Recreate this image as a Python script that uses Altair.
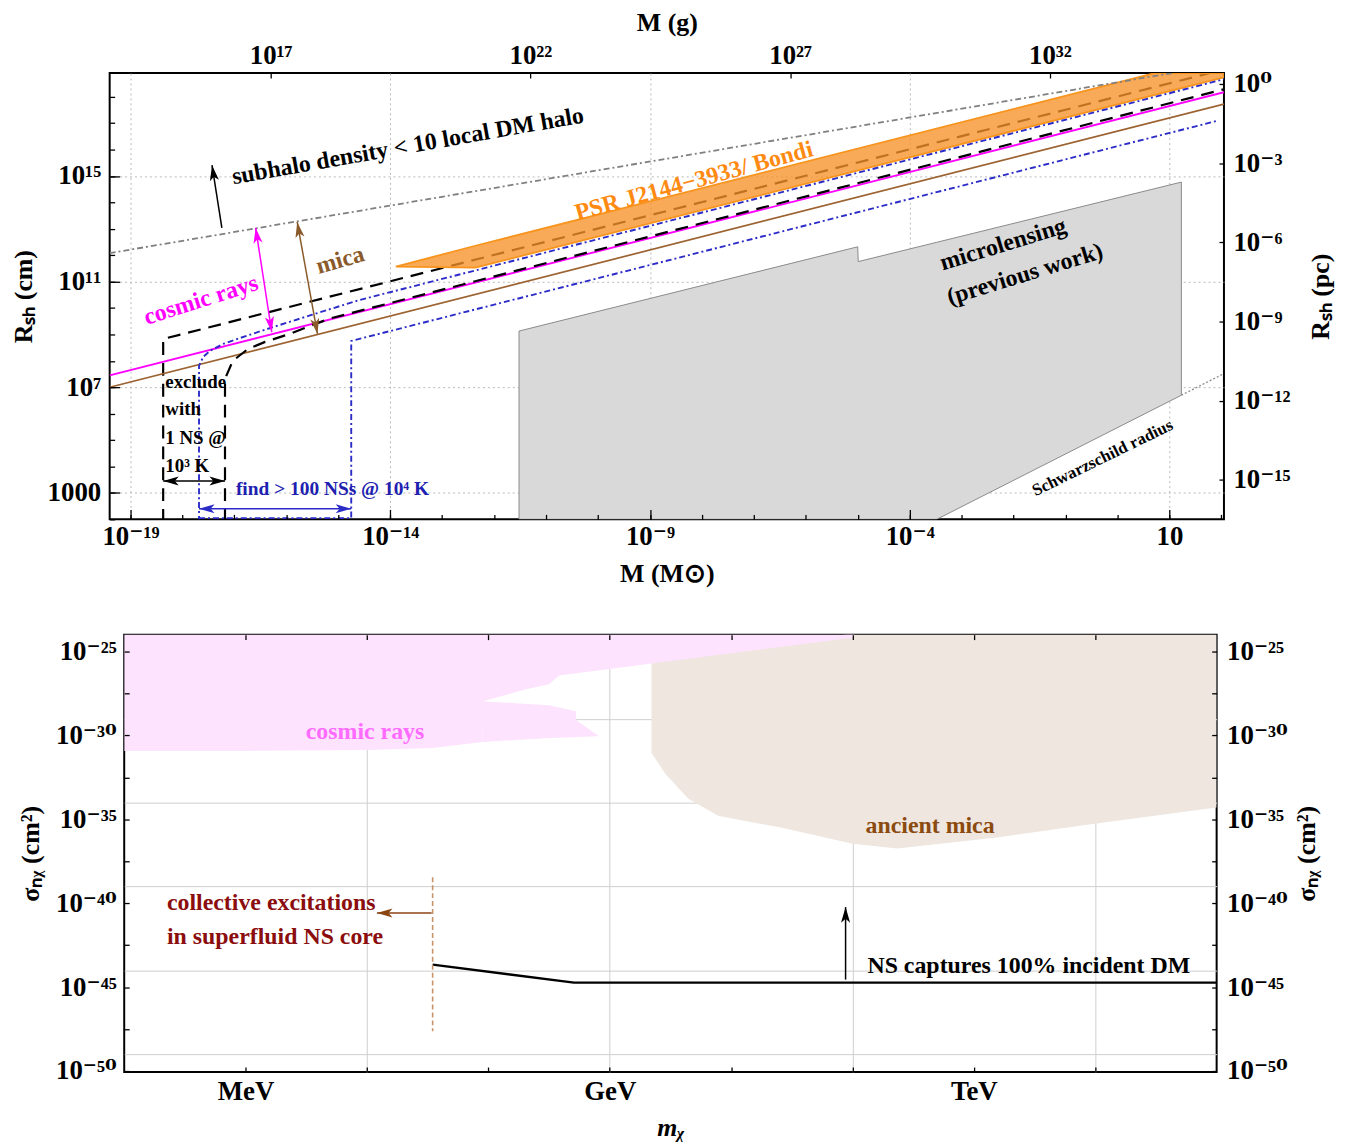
import math
import altair as alt
import pandas as pd

FONT = "Liberation Serif"
LFONT = "Liberation Serif, DejaVu Serif"
SUP = str.maketrans("0123456789-", "⁰¹²³⁴⁵⁶⁷⁸⁹⁻")


def p10(n):
    return "10" + str(n).translate(SUP)


# ================= TOP PANEL  (x = log10 M/Msun, y = log10 R_sh/cm) =================
TOP_W, TOP_H = 1121, 449
TOP_XD = [-19.4, 2.05]
TOP_YD = [2.0, 18.9]

subhalo_x = [-19.4, 1.05]
subhalo_y = [12.08, 18.9]
cosmic_x = [-19.4, 2.05]
cosmic_y = [7.45, 18.175]
micaL_x = [-19.4, 2.05]
micaL_y = [7.0, 17.725]
ns1_hi_x = [-18.37, -18.37, 1.78]
ns1_hi_y = [1.9, 8.83, 18.9]
ns1_lo_x = [-17.18, -17.18, -17.03, -16.74, -16.42, -15.94, -15.17, 2.05]
ns1_lo_y = [1.9, 7.32, 8.0, 8.45, 8.71, 9.02, 9.60, 18.285]
ns100_hi_x = [-17.68, -17.68, -17.60, -17.47, -17.22, -16.90, -16.38, -15.50, -14.60, 2.05]
ns100_hi_y = [1.9, 7.81, 8.15, 8.38, 8.64, 8.86, 9.20, 9.75, 10.30, 18.665]
ns100_lo_x = [-17.68, -14.75, -14.75, 1.95]
ns100_lo_y = [2.04, 2.04, 8.755, 17.105]
psr_x = [-13.89, -12.36, 0.72, 2.05]
psr_hi = [11.57, 12.36, 18.9, 18.9]
psr_lo = [11.57, 11.53, 18.07, 18.735]
lens_x = [-11.52, -5.0, -4.99, -3.48, 1.23]
lens_hi = [9.13, 12.32, 11.76, 12.49, 14.77]
lens_lo = [2.0, 2.0, 2.0, 2.0, 6.70]
schw_x = [1.23, 2.05]
schw_y = [6.70, 7.52]

# arrows (tail -> tip)
tarr_x0 = [-17.24, -16.28, -15.40, -17.18, -14.75]
tarr_y0 = [13.04, 9.09, 9.02, 3.45, 2.40]
tarr_x1 = [-17.43, -16.59, -15.79, -18.37, -17.68]
tarr_y1 = [15.41, 13.04, 13.26, 3.45, 2.40]
tarr_col = ["black", "#FF00FF", "#8B5A2B", "black", "#2B2BC8"]
tarr_dbl = [False, True, True, True, True]

top_xmaj = [-19, -14, -9, -4, 1]
top_xmaj_lab = ["10⁻¹⁹", "10⁻¹⁴", "10⁻⁹", "10⁻⁴", "10"]
top_ymaj = [3, 7, 11, 15]
top_ymaj_lab = ["1000", "10⁷", "10¹¹", "10¹⁵"]
top_xmin = list(range(-19, 3))
top_ymin = list(range(2, 19))
gram_exp = [17, 22, 27, 32]
gram_pos = [-16.3, -11.3, -6.3, -1.3]
pc_exp = [0, -3, -6, -9, -12, -15]
pc_pos = [18.49, 15.49, 12.49, 9.49, 6.49, 3.49]

# ================= BOTTOM PANEL  (x = log10 m/GeV, y = log10 sigma/cm^2) =================
BOT_W, BOT_H = 1099, 440
BOT_XD = [-4.0, 5.0]
BOT_YD = [-50.06, -23.99]

crA_x = [-4.0, -3.0, -2.0, -1.46, -1.049, -1.045, -0.689, -0.5, -0.418, 2.0, 2.016]
crA_lo = [-30.92, -30.92, -30.86, -30.75, -30.39, -27.96, -27.25, -26.95, -26.42, -24.17, -24.0]
crA_hi = [-23.9] * 11
crB_x = [-1.049, -0.5, -0.279, -0.275, -0.09]
crB_hi = [-27.96, -28.20, -28.55, -29.09, -30.03]
crB_lo = [-30.39, -30.15, -30.10, -30.09, -30.04]
mica_x = [0.344, 0.459, 0.648, 0.893, 1.41, 2.0, 2.369, 3.189, 4.008, 5.0]
mica_hi = [-25.6, -25.5, -25.3, -25.1, -24.6, -23.9, -23.9, -23.9, -23.9, -23.9]
mica_lo = [-31.04, -32.29, -33.77, -34.78, -35.49, -36.46, -36.73, -36.08, -35.25, -34.30]
nscap_x = [-1.459, -0.295, 5.0]
nscap_y = [-43.66, -44.73, -44.73]
coll_x = [-1.459, -1.459]
coll_y = [-38.45, -47.63]
barr_x0 = [-1.467, 1.943]
barr_y0 = [-40.58, -44.55]
barr_x1 = [-1.918, 1.943]
barr_y1 = [-40.58, -40.23]
barr_col = ["#8B4513", "black"]

bot_xlab = [-3, 0, 3]
bot_xlab_txt = ["MeV", "GeV", "TeV"]
bot_xticks = [-3, -2, -1, 0, 1, 2, 3, 4]
bot_ylab = [-25, -30, -35, -40, -45, -50]
bot_yticks = [-50, -47.5, -45, -42.5, -40, -37.5, -35, -32.5, -30, -27.5, -25]
bot_xgrid = [-2, 0, 2, 4]
bot_ygrid = [-29, -34, -39, -44, -49]

ARROW = "M0,0L0.7,2.4L0,1.8L-0.7,2.4Z"
LAB = 27
TIT = 26
TXT = 24


def lab_expr(vals, labs):
    e = "''"
    for v, l in zip(vals, labs):
        e = f"abs(datum.value - ({v})) < 0.001 ? '{l}' : ({e})"
    return e


def grid_axis(orient, values, dash=None, color="#b8b8b8"):
    kw = dict(orient=orient, values=values, grid=True, gridColor=color, gridWidth=1,
              ticks=False, labels=False, domain=False, title=None, zindex=0)
    if dash:
        kw["gridDash"] = dash
    return alt.Axis(**kw)


def tick_axis(orient, values, size, labels=None, label_vals=None, title=None, pad=6,
              tpad=10, fs=LAB, tangle=None, tbase=None, tstyle=None):
    kw = dict(orient=orient, values=values, tickSize=size, offset=-size, ticks=True,
              domain=False, grid=False, tickColor="black", tickWidth=1.3, zindex=1,
              labelOverlap=False, labelFlush=False, labelBound=False)
    if labels is None:
        kw["labels"] = False
    else:
        kw.update(labels=True, labelExpr=lab_expr(label_vals, labels), labelPadding=pad,
                  labelFont=LFONT, labelFontSize=fs, labelFontWeight="bold", labelColor="black")
    if title is None:
        kw["title"] = None
    else:
        kw.update(title=title, titleFont=FONT, titleFontSize=TIT, titleFontWeight="bold",
                  titleColor="black", titlePadding=tpad)
        if tangle is not None:
            kw["titleAngle"] = tangle
        if tbase is not None:
            kw["titleBaseline"] = tbase
        if tstyle is not None:
            kw["titleFontStyle"] = tstyle
    return alt.Axis(**kw)


def enc(sx, sy, xaxis=None, yaxis=None):
    return dict(x=alt.X("x:Q", scale=sx, axis=xaxis), y=alt.Y("y:Q", scale=sy, axis=yaxis))


def line(xs, ys, color, sx, sy, width=1.6, dash=None, xaxis=None, yaxis=None):
    df = pd.DataFrame({"x": xs, "y": ys, "i": list(range(len(xs)))})
    kw = dict(color=color, strokeWidth=width, clip=True)
    if dash is not None:
        kw["strokeDash"] = dash
    return alt.Chart(df).mark_line(**kw).encode(order="i:Q", **enc(sx, sy, xaxis, yaxis))


def area(xs, hi, lo, fill, sx, sy, stroke=None, sw=1.0, fop=1.0, xaxis=None, yaxis=None):
    df = pd.DataFrame({"x": xs, "y": hi, "y2": lo})
    kw = dict(fill=fill, fillOpacity=fop, clip=True)
    if stroke:
        kw.update(stroke=stroke, strokeWidth=sw)
    else:
        kw["strokeWidth"] = 0
    return alt.Chart(df).mark_area(**kw).encode(y2="y2:Q", **enc(sx, sy, xaxis, yaxis))


def arrows(x0, y0, x1, y1, cols, dbl, sx, sy, kx, ky, width=1.5, size=170):
    layers = []
    for a, b, c, d, col, db in zip(x0, y0, x1, y1, cols, dbl):
        rdf = pd.DataFrame({"x": [a], "y": [b], "x2": [c], "y2": [d]})
        layers.append(alt.Chart(rdf).mark_rule(color=col, strokeWidth=width).encode(
            x2="x2:Q", y2="y2:Q", **enc(sx, sy)))
        hx, hy, ha = [c], [d], [math.degrees(math.atan2((c - a) * kx, (d - b) * ky)) % 360]
        if db:
            hx.append(a)
            hy.append(b)
            ha.append(math.degrees(math.atan2((a - c) * kx, (b - d) * ky)) % 360)
        hdf = pd.DataFrame({"x": hx, "y": hy, "a": ha})
        layers.append(alt.Chart(hdf).mark_point(shape=ARROW, filled=True, size=size, color=col,
                                                opacity=1, strokeWidth=0).encode(
            angle=alt.Angle("a:Q", scale=None), **enc(sx, sy)))
    return layers


def text(xs, ys, labels, color, sx, sy, size=TXT, angle=None, align="center", weight="bold"):
    df = pd.DataFrame({"x": xs, "y": ys, "t": labels})
    kw = dict(color=color, fontSize=size, font=LFONT, fontWeight=weight, align=align,
              baseline="middle")
    if angle is not None:
        kw["angle"] = angle
    return alt.Chart(df).mark_text(**kw).encode(text="t:N", **enc(sx, sy))


# ---------------- build top panel ----------------
sxT = alt.Scale(domain=TOP_XD, nice=False, zero=False)
syT = alt.Scale(domain=TOP_YD, nice=False, zero=False)
kxT = TOP_W / (TOP_XD[1] - TOP_XD[0])
kyT = TOP_H / (TOP_YD[1] - TOP_YD[0])

top_layers = [
    area(lens_x, lens_hi, lens_lo, "#D9D9D9", sxT, syT, stroke="#8a8a8a", sw=1.0,
         xaxis=grid_axis("bottom", top_xmaj, dash=[2, 3]),
         yaxis=grid_axis("left", top_ymaj, dash=[2, 3])),
    line(ns1_hi_x, ns1_hi_y, "black", sxT, syT, width=2.2, dash=[13, 8]),
    area(psr_x, psr_hi, psr_lo, "#F7922A", sxT, syT, stroke="#F7941D", sw=1.8, fop=0.78),
    line(subhalo_x, subhalo_y, "#808080", sxT, syT, width=1.8, dash=[6, 3, 2, 3],
         xaxis=tick_axis("top", gram_pos, 5, labels=[p10(e) for e in gram_exp],
                         label_vals=gram_pos, title="M (g)", pad=4, tpad=6),
         yaxis=tick_axis("right", pc_pos, 5, labels=[p10(e) for e in pc_exp],
                         label_vals=pc_pos, title="Rₛₕ (pc)", pad=9, tpad=18,
                         tangle=270, tbase="top")),
    line(ns100_lo_x, ns100_lo_y, "#2B2BC8", sxT, syT, width=1.9, dash=[6, 3, 2, 3]),
    line(micaL_x, micaL_y, "#9C6331", sxT, syT, width=1.7,
         xaxis=tick_axis("bottom", top_xmaj, 10, labels=top_xmaj_lab, label_vals=top_xmaj,
                         title="M (M⊙)", pad=4, tpad=12),
         yaxis=tick_axis("left", top_ymaj, 10, labels=top_ymaj_lab, label_vals=top_ymaj,
                         title="Rₛₕ (cm)", pad=9, tpad=11)),
    line(cosmic_x, cosmic_y, "#FF00FF", sxT, syT, width=1.9,
         xaxis=tick_axis("bottom", top_xmin, 5), yaxis=tick_axis("left", top_ymin, 5)),
    line(ns1_lo_x, ns1_lo_y, "black", sxT, syT, width=2.2, dash=[13, 8]),
    line(ns100_hi_x, ns100_hi_y, "#2B2BC8", sxT, syT, width=1.9, dash=[6, 3, 2, 3]),
    line(schw_x, schw_y, "#8a8a8a", sxT, syT, width=1.3, dash=[2, 2]),
]
top_layers += arrows(tarr_x0, tarr_y0, tarr_x1, tarr_y1, tarr_col, tarr_dbl, sxT, syT, kxT, kyT)
top_layers += [
    text([-13.66], [16.12], ["subhalo density < 10 local DM halo"], "black", sxT, syT, TXT, 350),
    text([-8.15], [14.80], ["PSR J2144−3933/ Bondi"], "#FF8A12", sxT, syT, TXT, 344.7),
    text([-14.96], [11.80], ["mica"], "#8B5A2B", sxT, syT, TXT, 344),
    text([-17.64], [10.29], ["cosmic rays"], "#FF00FF", sxT, syT, TXT, 342.5),
    text([-2.20], [12.40], ["microlensing"], "black", sxT, syT, TXT, 343),
    text([-1.78], [11.27], ["(previous work)"], "black", sxT, syT, TXT, 343),
    text([-0.285], [4.32], ["Schwarzschild radius"], "black", sxT, syT, 17, 334),
    text([-18.33] * 4, [7.21, 6.16, 5.07, 4.02], ["exclude", "with", "1 NS @", "10³ K"],
         "black", sxT, syT, 19, None, "left"),
    text([-16.97], [3.15], ["find > 100 NSs @ 10⁴ K"], "#2020B0", sxT, syT, 19.5, None, "left"),
]
top = alt.layer(*top_layers).resolve_axis(x="independent", y="independent").properties(
    width=TOP_W, height=TOP_H)

# ---------------- build bottom panel ----------------
sxB = alt.Scale(domain=BOT_XD, nice=False, zero=False)
syB = alt.Scale(domain=BOT_YD, nice=False, zero=False)
kxB = BOT_W / (BOT_XD[1] - BOT_XD[0])
kyB = BOT_H / (BOT_YD[1] - BOT_YD[0])

bot_ylab_txt = [p10(v) for v in bot_ylab]
bot_layers = [
    area(mica_x, mica_hi, mica_lo, "#EEE6DF", sxB, syB,
         xaxis=grid_axis("bottom", bot_xgrid, color="#cfcfcf"),
         yaxis=grid_axis("left", bot_ygrid, color="#cfcfcf")),
    area(crA_x, crA_hi, crA_lo, "#FDE3FD", sxB, syB,
         xaxis=tick_axis("bottom", bot_xticks, 5, labels=bot_xlab_txt, label_vals=bot_xlab,
                         title="mᵪ", pad=7, tpad=10, tstyle="italic"),
         yaxis=tick_axis("left", bot_yticks, 5, labels=bot_ylab_txt, label_vals=bot_ylab,
                         title="σₙᵪ (cm²)", pad=8, tpad=12)),
    area(crB_x, crB_hi, crB_lo, "#FDE3FD", sxB, syB,
         xaxis=tick_axis("top", bot_xticks, 5),
         yaxis=tick_axis("right", bot_yticks, 5, labels=bot_ylab_txt, label_vals=bot_ylab,
                         title="σₙᵪ (cm²)", pad=10, tpad=6, tangle=270, tbase="top")),
    line(nscap_x, nscap_y, "black", sxB, syB, width=2.3),
    line(coll_x, coll_y, "#C8956A", sxB, syB, width=1.6, dash=[5, 3]),
]
bot_layers += arrows(barr_x0, barr_y0, barr_x1, barr_y1, barr_col, [False, False], sxB, syB,
                     kxB, kyB)
bot_layers += [
    text([-2.016], [-29.80], ["cosmic rays"], "#FF6BFF", sxB, syB, TXT),
    text([2.639], [-35.37], ["ancient mica"], "#8B4A0F", sxB, syB, TXT),
    text([-3.648, -3.648], [-40.0, -42.0], ["collective excitations", "in superfluid NS core"],
         "#8B0D0D", sxB, syB, TXT, None, "left"),
    text([2.123], [-43.72], ["NS captures 100% incident DM"], "black", sxB, syB, TXT, None, "left"),
]
bottom = alt.layer(*bot_layers).resolve_axis(x="independent", y="independent").properties(
    width=BOT_W, height=BOT_H)

chart = alt.vconcat(top, bottom, spacing=45, center=True).properties(
    padding={"left": 1, "top": -3, "right": 2, "bottom": 2}, background="white"
).configure_view(stroke="black", strokeWidth=2)

chart.save("out.html", embed_options={"renderer": "svg", "actions": False})
